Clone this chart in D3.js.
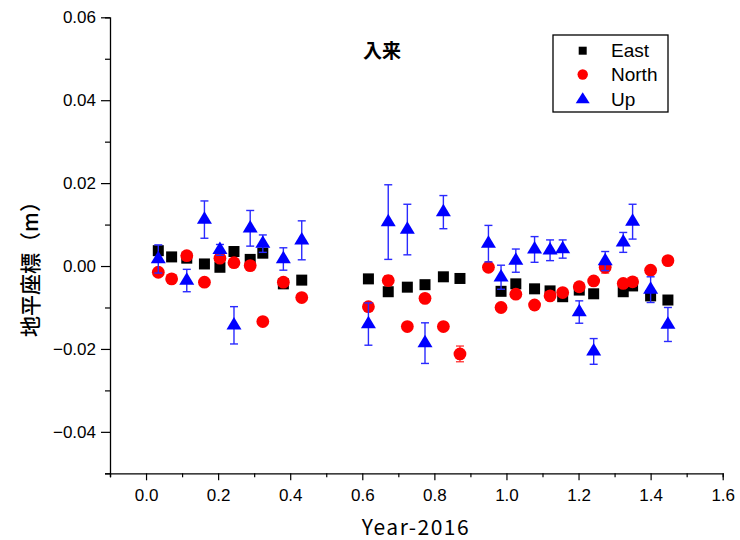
<!DOCTYPE html>
<html>
<head>
<meta charset="utf-8">
<script src="https://cdn.jsdelivr.net/npm/d3@7"></script>
<style>
  html, body { margin: 0; padding: 0; background: #fff; }
  svg { display: block; }
</style>
</head>
<body>
<svg id="chart" width="740" height="540"></svg>
<script>
// Observation epochs (decimal years since 2016)
const epochs = [0.034, 0.071, 0.113, 0.162, 0.205, 0.244, 0.289, 0.324, 0.381, 0.432,
                0.617, 0.672, 0.725, 0.774, 0.825, 0.871,
                0.950, 0.985, 1.026, 1.078, 1.121, 1.156, 1.202, 1.242, 1.274, 1.324, 1.350, 1.400, 1.448];

// Horizontal coordinate offsets (m)
const eastVals = [0.0037, 0.0022, 0.0019, 0.0005, -0.0003, 0.0035, 0.0016, 0.0031, -0.0043, -0.0034,
                  -0.0031, -0.0062, -0.0051, -0.0045, -0.0026, -0.0030,
                  null, -0.0061, -0.0043, -0.0055, -0.0060, -0.0074, -0.0058, -0.0067, null, -0.0062, -0.0048, -0.0072, -0.0082];

const northVals = [-0.0015, -0.0031, 0.0025, -0.0039, 0.0019, 0.0008, 0.0001, -0.0134, -0.0039, -0.0076,
                   -0.0098, -0.0035, -0.0146, -0.0078, -0.0146, -0.0212,
                   -0.0003, -0.0100, -0.0068, -0.0094, -0.0072, -0.0064, -0.0050, -0.0036, -0.0003, -0.0042, -0.0038, -0.0010, 0.0013];
const northErr = [0.0005, 0.0004, 0.0006, 0.0004, 0.0004, 0.0004, 0.0005, 0.0004, 0.0008, 0.0004,
                  0.0004, 0.0012, 0.0004, 0.0004, 0.0004, 0.0019,
                  0.0004, 0.0004, 0.0004, 0.0004, 0.0008, 0.0008, 0.0004, 0.0004, 0.0014, 0.0006, 0.0007, 0.0004, 0.0004];

const upVals = [0.0017, null, -0.0035, 0.0112, 0.0039, -0.0143, 0.0091, 0.0054, 0.0017, 0.0062,
                -0.0140, 0.0106, 0.0088, -0.0186, 0.0130, null,
                0.0054, -0.0027, 0.0013, 0.0040, 0.0038, 0.0041, -0.0111, -0.0206, 0.0012, 0.0057, 0.0107, -0.0057, -0.0141];
const upErr = [0.0034, null, 0.0027, 0.0045, 0.0013, 0.0045, 0.0043, 0.0021, 0.0027, 0.0047,
               0.0051, 0.0090, 0.0061, 0.0049, 0.0040, null,
               0.0044, 0.0029, 0.0028, 0.0031, 0.0025, 0.0022, 0.0027, 0.0031, 0.0023, 0.0024, 0.0042, 0.0031, 0.0041];

const xMajorTicks = [0.0, 0.2, 0.4, 0.6, 0.8, 1.0, 1.2, 1.4, 1.6];
const xMinorTicks = [-0.1, 0.1, 0.3, 0.5, 0.7, 0.9, 1.1, 1.3, 1.5];
const yMajorTicks = [-0.04, -0.02, 0.00, 0.02, 0.04, 0.06];
const yMinorTicks = [-0.05, -0.03, -0.01, 0.01, 0.03, 0.05];

const seriesNames = ["East", "North", "Up"];
const titleText = "入来";
const xTitle = "Year-2016";
const yTitle = "地平座標（m）";

const svg = d3.select("#chart");
const x = d3.scaleLinear().domain([-0.1, 1.6]).range([110, 722.7]);
const y = d3.scaleLinear().domain([-0.05, 0.06]).range([473.3, 17.3]);

const tickFont = "'Liberation Sans', Arial, sans-serif";
const cjkFont = "'Noto Sans CJK JP', sans-serif";

// Axes: major ticks with labels, minor ticks without
const yAxisG = svg.append("g").attr("transform", `translate(${x.range()[0]},0)`);
yAxisG.call(d3.axisLeft(y).tickValues(yMajorTicks).tickSize(9).tickPadding(5).tickFormat(d3.format(".2f")));
yAxisG.append("g").call(d3.axisLeft(y).tickValues(yMinorTicks).tickSize(5).tickFormat(""));

const xAxisG = svg.append("g").attr("transform", `translate(0,${y.range()[0]})`);
xAxisG.call(d3.axisBottom(x).tickValues(xMajorTicks).tickSize(7).tickPadding(9).tickFormat(d3.format(".1f")));
xAxisG.append("g").call(d3.axisBottom(x).tickValues(xMinorTicks).tickSize(4).tickFormat(""));

svg.selectAll(".domain").attr("stroke", "#000").attr("stroke-width", 1.3);
svg.selectAll(".tick line").attr("stroke", "#000").attr("stroke-width", 1.2);
yAxisG.selectAll(".tick text").attr("font-family", tickFont).attr("font-size", 17).attr("fill", "#000");
xAxisG.selectAll(".tick text").attr("font-family", tickFont).attr("font-size", 17).attr("fill", "#000");
// the minor-axis domain paths would double up the main axis lines
yAxisG.select("g .domain").remove();
xAxisG.select("g .domain").remove();

// Titles
svg.append("text").attr("x", 382).attr("y", 58).attr("text-anchor", "middle")
  .attr("font-family", cjkFont).attr("font-weight", 600).attr("font-size", 19).text(titleText);
svg.append("text").attr("x", 416).attr("y", 535).attr("text-anchor", "middle")
  .attr("font-family", cjkFont).attr("font-size", 21)
  .attr("letter-spacing", 1.5).text(xTitle);
svg.append("text").attr("transform", "translate(38,264) rotate(-90)").attr("text-anchor", "middle")
  .attr("font-family", cjkFont).attr("font-weight", 500).attr("font-size", 21).text(yTitle);

// Build point records
const pts = (vals, errs) => epochs.map((t, i) => ({t, v: vals[i], e: errs ? errs[i] : null}))
  .filter(d => d.v !== null);
const eastPts = pts(eastVals, null);
const northPts = pts(northVals, northErr);
const upPts = pts(upVals, upErr);

const plot = svg.append("g");

function errorBars(data, color, width) {
  const g = plot.append("g").attr("stroke", color).attr("stroke-width", width).attr("fill", "none");
  const cap = 4;
  data.filter(d => d.e).forEach(d => {
    const cx = x(d.t), y0 = y(d.v - d.e), y1 = y(d.v + d.e);
    g.append("line").attr("x1", cx).attr("x2", cx).attr("y1", y0).attr("y2", y1);
    g.append("line").attr("x1", cx - cap).attr("x2", cx + cap).attr("y1", y0).attr("y2", y0);
    g.append("line").attr("x1", cx - cap).attr("x2", cx + cap).attr("y1", y1).attr("y2", y1);
  });
}

const triPath = (w, h) => `M0,${-h * 2 / 3}L${w / 2},${h / 3}L${-w / 2},${h / 3}Z`;

// East squares
plot.append("g").selectAll("rect").data(eastPts).join("rect")
  .attr("x", d => x(d.t) - 5.5).attr("y", d => y(d.v) - 5.5)
  .attr("width", 11).attr("height", 11).attr("fill", "#000");

// North circles with error bars
errorBars(northPts, "#ff2020", 1.2);
plot.append("g").selectAll("circle").data(northPts).join("circle")
  .attr("cx", d => x(d.t)).attr("cy", d => y(d.v)).attr("r", 6.4).attr("fill", "#ff0000");

// Up triangles with error bars
errorBars(upPts, "#2a2aff", 1.4);
plot.append("g").selectAll("path").data(upPts).join("path")
  .attr("d", triPath(15, 12.5))
  .attr("transform", d => `translate(${x(d.t)},${y(d.v)})`).attr("fill", "#0000ff");

// Legend
const lg = svg.append("g");
lg.append("rect").attr("x", 553).attr("y", 35).attr("width", 115).attr("height", 77)
  .attr("fill", "#fff").attr("stroke", "#000").attr("stroke-width", 1.3);
const rows = [50.7, 74.5, 99.5];
const symX = 582.7;
lg.append("rect").attr("x", symX - 4).attr("y", rows[0] - 4).attr("width", 8).attr("height", 8).attr("fill", "#000");
lg.append("circle").attr("cx", symX).attr("cy", rows[1]).attr("r", 5.2).attr("fill", "#ff0000");
lg.append("path").attr("d", triPath(14, 11)).attr("transform", `translate(${symX},${rows[2]})`).attr("fill", "#0000ff");
seriesNames.forEach((name, i) => {
  lg.append("text").attr("x", 611).attr("y", rows[i] + 6.5)
    .attr("font-family", tickFont).attr("font-size", 19).attr("fill", "#000").text(name);
});
</script>
</body>
</html>
